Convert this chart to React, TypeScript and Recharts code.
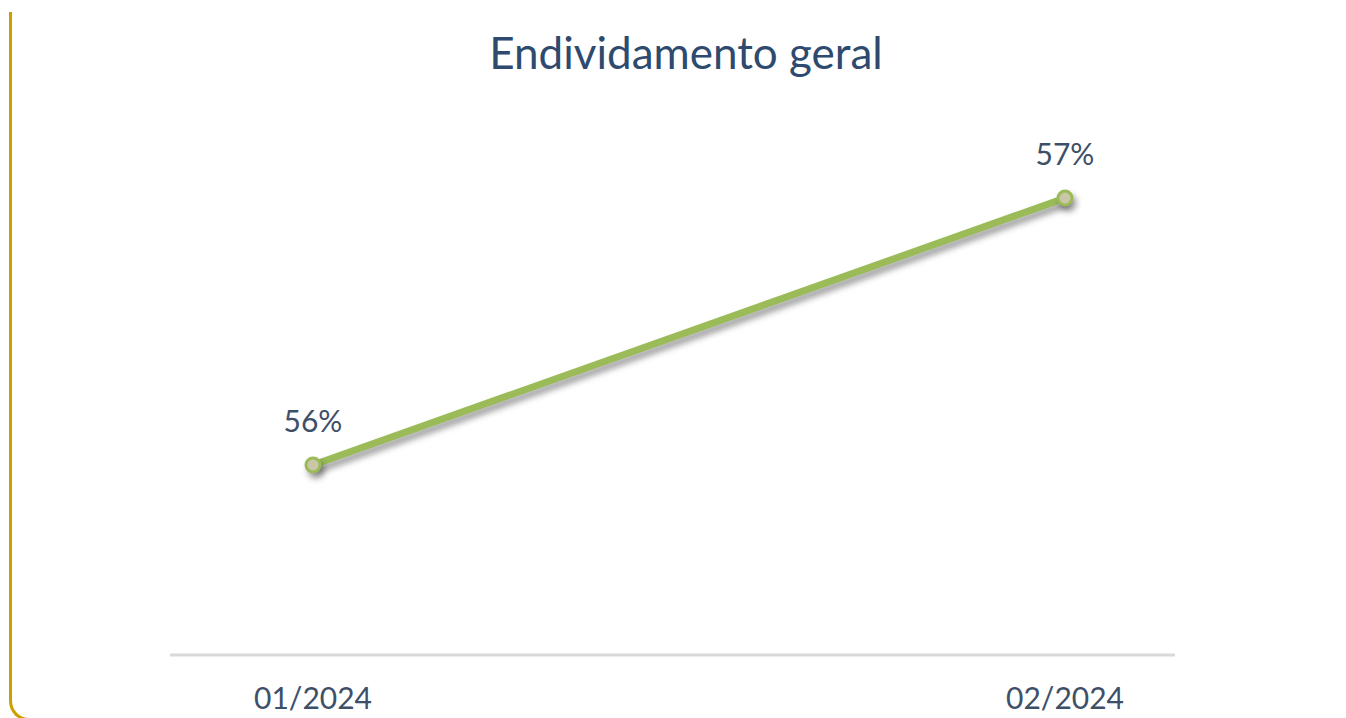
import { LabelList, Line, LineChart, XAxis, YAxis } from "recharts";

const periods = ["01/2024", "02/2024"];
const debtRatio = [56, 57];

const data = periods.map((period, i) => ({ period, value: debtRatio[i] }));

const textColor = "#3E4F68";

export default function App() {
  return (
    <div style={{ position: "relative", width: 1346, height: 718, overflow: "hidden", background: "#fff", fontFamily: "Lato" }}>
      <style>{`
        body { margin: 0; }
        .recharts-line-curve, .recharts-line-dots { filter: drop-shadow(3px 5px 3px rgba(0,0,0,0.4)); }
      `}</style>
      <div
        style={{
          position: "absolute",
          left: 9,
          top: 12,
          width: 1500,
          height: 706,
          borderLeft: "3px solid #CC9F00",
          borderBottom: "3px solid #CC9F00",
          borderBottomLeftRadius: 20,
        }}
      />
      <div
        style={{
          position: "absolute",
          left: 0,
          width: 1372,
          top: 27,
          textAlign: "center",
          fontSize: 44,
          lineHeight: "50px",
          color: "#2E4A6E",
        }}
      >
        Endividamento geral
      </div>
      <div style={{ position: "absolute", left: 0, top: 0 }}>
        <LineChart width={1346} height={718} data={data} margin={{ top: 145, right: 171, left: 170, bottom: 13 }}>
          <XAxis
            dataKey="period"
            height={50}
            padding={{ left: 143, right: 110 }}
            axisLine={{ stroke: "#D9D9D9", strokeWidth: 3 }}
            tickLine={false}
            tickSize={0}
            tickMargin={33}
            tick={{ fill: textColor, fontSize: 30, fontFamily: "Lato" }}
          />
          <YAxis hide domain={[55.288, 57.199]} />
          <Line
            dataKey="value"
            stroke="#9BBB59"
            strokeWidth={7}
            dot={{ r: 7, fill: "#CBC6A6", stroke: "#9BBB59", strokeWidth: 3 }}
            activeDot={false}
            isAnimationActive={false}
          >
            <LabelList
              dataKey="value"
              position="top"
              offset={33}
              formatter={(v: number) => `${v}%`}
              style={{ fill: textColor, fontSize: 30, fontFamily: "Lato" }}
            />
          </Line>
        </LineChart>
      </div>
    </div>
  );
}
